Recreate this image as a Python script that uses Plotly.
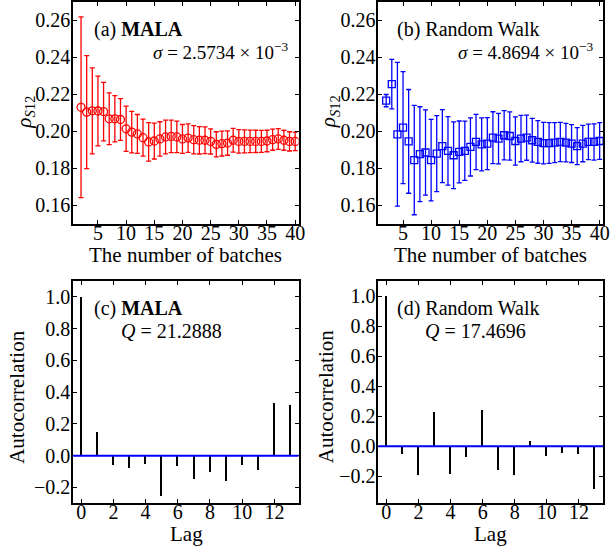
import plotly.graph_objects as go

# ---------------- data ----------------
batches = list(range(2, 41))

mala_mean = [0.2130, 0.2104, 0.2111, 0.2110, 0.2107, 0.2068, 0.2068, 0.2064, 0.2014, 0.1996,
             0.1986, 0.1966, 0.1943, 0.1948, 0.1959, 0.1970, 0.1973, 0.1970, 0.1959, 0.1964,
             0.1955, 0.1952, 0.1952, 0.1946, 0.1930, 0.1934, 0.1937, 0.1952, 0.1946, 0.1946,
             0.1946, 0.1946, 0.1946, 0.1948, 0.1955, 0.1959, 0.1952, 0.1946, 0.1946]
mala_err = [0.0488, 0.0305, 0.0232, 0.0188, 0.0158, 0.0140, 0.0125, 0.0113, 0.0122, 0.0112,
            0.0105, 0.0100, 0.0104, 0.0097, 0.0093, 0.0091, 0.0088, 0.0085, 0.0078, 0.0077,
            0.0076, 0.0074, 0.0072, 0.0068, 0.0068, 0.0067, 0.0066, 0.0064, 0.0063, 0.0062,
            0.0061, 0.0060, 0.0059, 0.0058, 0.0057, 0.0056, 0.0054, 0.0052, 0.0050]

rw_mean = [0.2166, 0.2255, 0.1984, 0.2020, 0.1946, 0.1845, 0.1877, 0.1886, 0.1845, 0.1880,
           0.1920, 0.1895, 0.1871, 0.1889, 0.1895, 0.1916, 0.1943, 0.1930, 0.1934, 0.1966,
           0.1961, 0.1979, 0.1975, 0.1948, 0.1961, 0.1966, 0.1952, 0.1943, 0.1937, 0.1937,
           0.1939, 0.1943, 0.1939, 0.1934, 0.1920, 0.1934, 0.1943, 0.1943, 0.1948]
rw_err = [0.0033, 0.0134, 0.0388, 0.0302, 0.0280, 0.0295, 0.0256, 0.0230, 0.0220, 0.0205,
          0.0197, 0.0185, 0.0180, 0.0167, 0.0160, 0.0157, 0.0149, 0.0143, 0.0140, 0.0140,
          0.0136, 0.0133, 0.0130, 0.0130, 0.0125, 0.0122, 0.0118, 0.0115, 0.0112, 0.0110,
          0.0108, 0.0106, 0.0104, 0.0102, 0.0100, 0.0098, 0.0096, 0.0098, 0.0099]

lags = list(range(0, 14))
acf_mala = [1.0, 0.151, -0.057, -0.080, -0.053, -0.253, -0.064, -0.148, -0.101, -0.160,
            -0.059, -0.091, 0.330, 0.318]
acf_rw = [1.0, -0.055, -0.194, 0.227, -0.185, -0.073, 0.238, -0.161, -0.190, 0.033,
          -0.066, -0.042, -0.055, -0.283]

batch_ticks = [5, 10, 15, 20, 25, 30, 35, 40]
rho_ticks = [0.16, 0.18, 0.20, 0.22, 0.24, 0.26]
lag_ticks = [0, 2, 4, 6, 8, 10, 12]
acf_ticks = [-0.2, 0.0, 0.2, 0.4, 0.6, 0.8, 1.0]

# ---------------- figure ----------------
W, H = 611, 546
FONT = "Liberation Serif"
FS = 20


def px_x(p):
    return p / W


def px_y(p):
    return 1 - p / H


fig = go.Figure()

fig.add_trace(go.Scatter(
    x=batches, y=mala_mean, mode="markers",
    marker=dict(symbol="circle-open", size=8, color="red", line=dict(width=1.3, color="red")),
    error_y=dict(type="data", array=mala_err, color="red", thickness=1.3, width=2.5),
    xaxis="x", yaxis="y", showlegend=False))

fig.add_trace(go.Scatter(
    x=batches, y=rw_mean, mode="markers",
    marker=dict(symbol="square-open", size=7, color="blue", line=dict(width=1.3, color="blue")),
    error_y=dict(type="data", array=rw_err, color="blue", thickness=1.3, width=2.5),
    xaxis="x2", yaxis="y2", showlegend=False))

fig.add_trace(go.Bar(x=lags, y=acf_mala, width=0.09, marker=dict(color="black", line=dict(width=0)),
                     xaxis="x3", yaxis="y3", showlegend=False))
fig.add_trace(go.Bar(x=lags, y=acf_rw, width=0.09, marker=dict(color="black", line=dict(width=0)),
                     xaxis="x4", yaxis="y4", showlegend=False))

dom_a_x = [px_x(74), px_x(302)]
dom_b_x = [px_x(382.7), px_x(610)]
dom_top_y = [px_y(224), px_y(1.7)]
dom_bot_y = [px_y(503.3), px_y(281)]

common = dict(showline=True, linecolor="black", linewidth=1.8, mirror="allticks",
              ticks="inside", ticklen=4, tickwidth=1, tickcolor="black",
              showgrid=False, zeroline=False,
              tickfont=dict(family=FONT, size=FS, color="black"))
xcommon = dict(common, ticklabelstandoff=-10)
ycommon = dict(common, ticklabelstandoff=-3)

fig.update_layout(
    width=W, height=H,
    margin=dict(l=0, r=0, t=0, b=0),
    paper_bgcolor="white", plot_bgcolor="white",
    font=dict(family=FONT, size=FS, color="black"),
    bargap=0,
    xaxis=dict(domain=dom_a_x, range=[0.6, 40.6], tickvals=batch_ticks, anchor="y", **xcommon),
    yaxis=dict(domain=dom_top_y, range=[0.15, 0.27], tickvals=rho_ticks, tickformat=".2f", anchor="x", **ycommon),
    xaxis2=dict(domain=dom_b_x, range=[0.6, 40.6], tickvals=batch_ticks, anchor="y2", **xcommon),
    yaxis2=dict(domain=dom_top_y, range=[0.15, 0.27], tickvals=rho_ticks, tickformat=".2f", anchor="x2", **ycommon),
    xaxis3=dict(domain=dom_a_x, range=[-0.5, 13.5], tickvals=lag_ticks, anchor="y3", **xcommon),
    yaxis3=dict(domain=dom_bot_y, range=[-0.3, 1.1], tickvals=acf_ticks, tickformat=".1f", anchor="x3", **ycommon),
    xaxis4=dict(domain=dom_b_x, range=[-0.5, 13.5], tickvals=lag_ticks, anchor="y4", **xcommon),
    yaxis4=dict(domain=dom_bot_y, range=[-0.38, 1.1], tickvals=acf_ticks, tickformat=".1f", anchor="x4", **ycommon),
)

# zero reference lines (blue)
for xr, yr in (("x3 domain", "y3"), ("x4 domain", "y4")):
    fig.add_shape(type="line", xref=xr, yref=yr, x0=0, x1=1, y0=0, y1=0,
                  line=dict(color="blue", width=2), layer="above")

ann = []


def add_text(text, x, y, xanchor="center", yanchor="middle", angle=0, size=FS):
    ann.append(dict(text=text, x=px_x(x), y=px_y(y), xref="paper", yref="paper",
                    xanchor=xanchor, yanchor=yanchor, textangle=angle, showarrow=False,
                    font=dict(family=FONT, size=size, color="black")))


# panel labels
add_text("(a) <b>MALA</b>", 93, 29, xanchor="left", size=20)
add_text("<i>σ</i> = 2.5734 × 10<sup>−3</sup>", 294, 51, xanchor="right", size=19)
add_text("(b) Random Walk", 400, 29, xanchor="left", size=20)
add_text("<i>σ</i> = 4.8694 × 10<sup>−3</sup>", 603, 51, xanchor="right", size=19)
add_text("(c) <b>MALA</b>", 93, 308, xanchor="left", size=20)
add_text("<i>Q</i> = 21.2888", 120, 331, xanchor="left", size=20)
add_text("(d) Random Walk", 400, 308, xanchor="left", size=20)
add_text("<i>Q</i> = 17.4696", 428, 331, xanchor="left", size=20)

# axis titles
add_text("<i>ρ</i><sub><i>S</i>12</sub>", 25, 112, angle=-90, size=21)
add_text("<i>ρ</i><sub><i>S</i>12</sub>", 333, 112, angle=-90, size=21)
add_text("The number of batches", 188, 255, size=21)
add_text("The number of batches", 496, 255, size=21)
add_text("Autocorrelation", 17, 397, angle=-90, size=21)
add_text("Autocorrelation", 330, 397, angle=-90, size=21)
add_text("Lag", 189, 534, size=21)
add_text("Lag", 496, 534, size=21)

fig.update_layout(annotations=ann)

fig.write_html("out.html", config={"displayModeBar": False},
               post_script="document.body.style.margin='0';document.body.style.overflow='hidden';")
